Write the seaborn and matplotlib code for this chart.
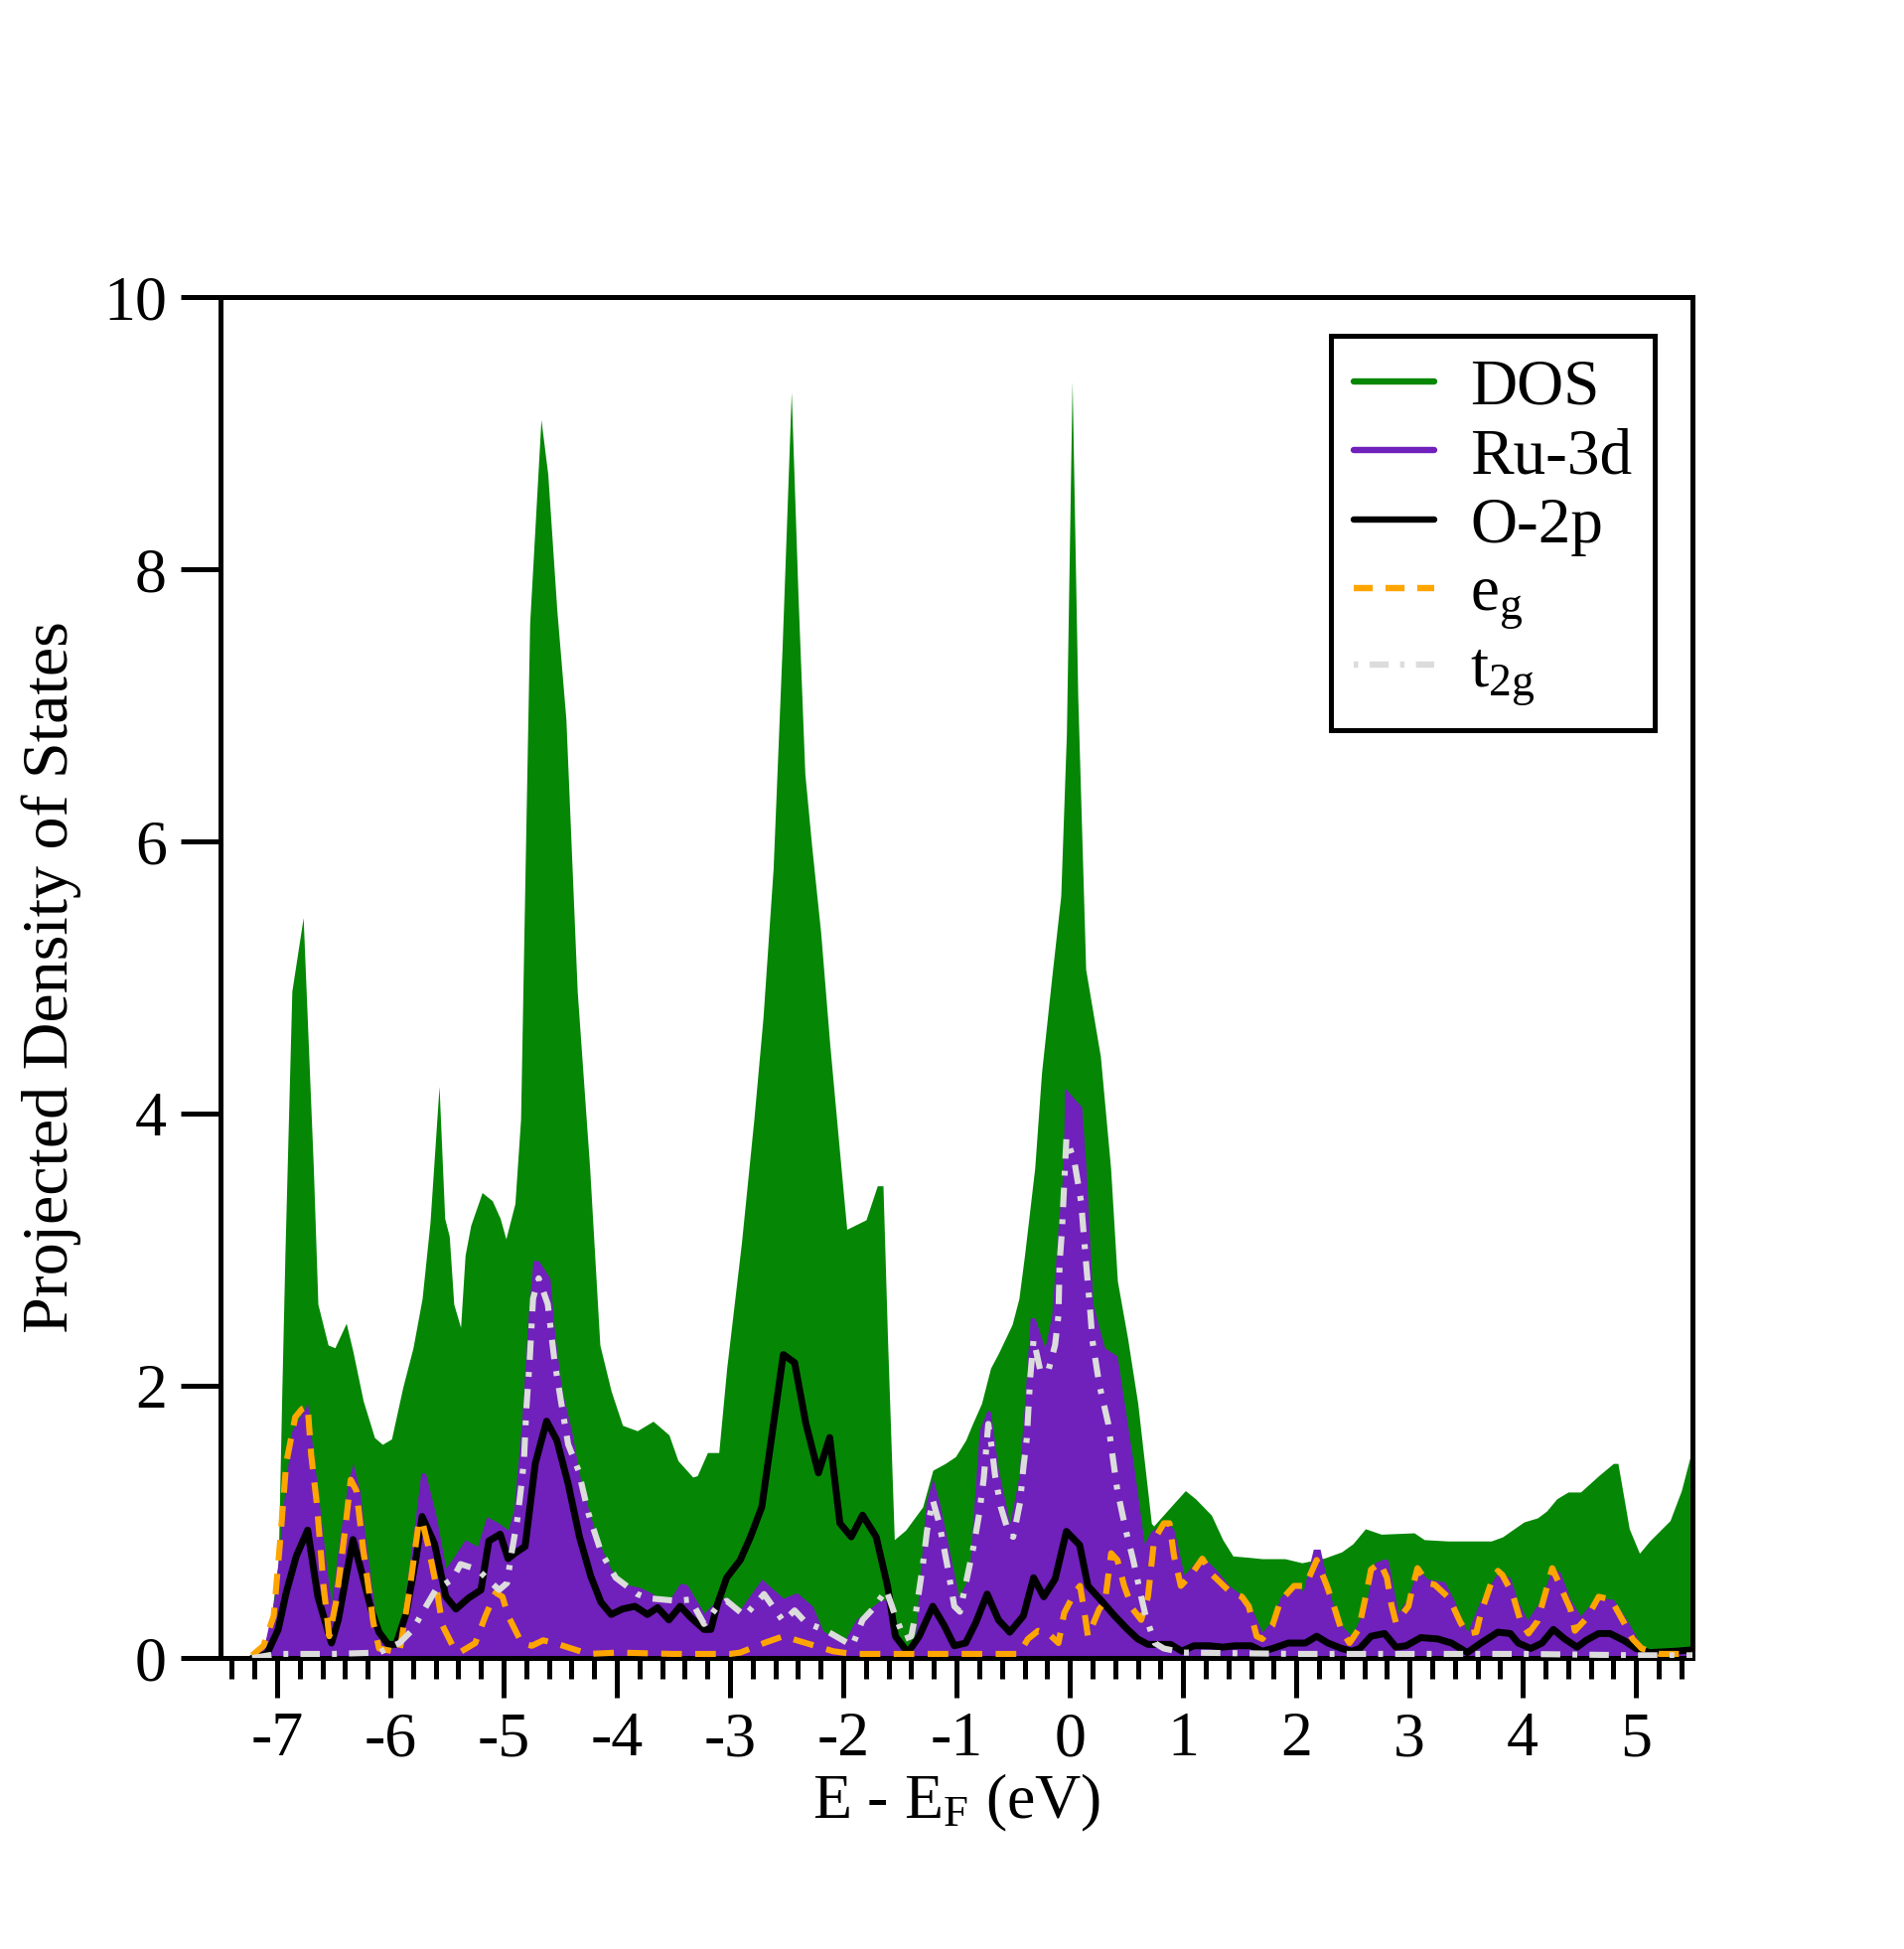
import matplotlib
matplotlib.use("Agg")
import matplotlib.pyplot as plt
from matplotlib.lines import Line2D
from matplotlib.ticker import MultipleLocator
import numpy as np
import pandas as pd
import seaborn as sns

# values (energy in eV, DOS in states)
dos_e = [-7.10, -6.99, -6.96, -6.93, -6.87, -6.77, -6.68, -6.64, -6.55, -6.49, -6.39, -6.33,
         -6.24, -6.14, -6.07, -5.99, -5.89, -5.80, -5.72, -5.65, -5.57, -5.52, -5.48, -5.44,
         -5.38, -5.34, -5.29, -5.19, -5.10, -5.03, -4.98, -4.90, -4.85, -4.81, -4.77, -4.71,
         -4.67, -4.61, -4.53, -4.45, -4.35, -4.24, -4.15, -4.05, -3.95, -3.82, -3.68, -3.54,
         -3.46, -3.33, -3.29, -3.20, -3.10, -3.03, -2.90, -2.79, -2.71, -2.62, -2.54, -2.46,
         -2.40, -2.34, -2.28, -2.20, -2.12, -2.04, -1.97, -1.80, -1.70, -1.65, -1.61, -1.55,
         -1.45, -1.30, -1.21, -1.10, -1.01, -0.92, -0.86, -0.78, -0.70, -0.63, -0.51, -0.45,
         -0.40, -0.31, -0.25, -0.16, -0.08, -0.03, 0.02, 0.07, 0.14, 0.27, 0.36, 0.42,
         0.51, 0.60, 0.66, 0.72, 0.74, 0.89, 1.02, 1.11, 1.25, 1.35, 1.44, 1.58,
         1.70, 1.90, 2.05, 2.25, 2.40, 2.50, 2.61, 2.75, 3.04, 3.13, 3.34, 3.72,
         3.82, 4.01, 4.13, 4.21, 4.30, 4.40, 4.51, 4.67, 4.80, 4.84, 4.94, 5.03,
         5.12, 5.30, 5.40, 5.50]
dos_val = [0.0, 0.7, 1.9, 3.0, 4.9, 5.44, 3.6, 2.6, 2.30, 2.28, 2.46, 2.25,
           1.89, 1.62, 1.57, 1.61, 1.99, 2.28, 2.64, 3.2, 4.2, 3.23, 3.1, 2.6,
           2.43, 2.96, 3.18, 3.42, 3.36, 3.23, 3.08, 3.34, 3.96, 5.8, 7.6, 8.5,
           9.1, 8.7, 7.7, 6.9, 4.9, 3.6, 2.30, 1.96, 1.71, 1.67, 1.74, 1.64,
           1.45, 1.33, 1.34, 1.51, 1.51, 2.13, 3.05, 3.96, 4.7, 5.8, 7.44, 9.3,
           7.8, 6.5, 5.97, 5.33, 4.51, 3.78, 3.15, 3.22, 3.47, 3.47, 2.35, 0.87,
           0.94, 1.11, 1.38, 1.43, 1.48, 1.60, 1.72, 1.87, 2.13, 2.24, 2.45, 2.64,
           2.96, 3.6, 4.3, 5.0, 5.6, 6.8, 9.38, 7.07, 5.06, 4.42, 3.6, 2.77,
           2.35, 1.87, 1.43, 0.99, 0.97, 1.11, 1.23, 1.17, 1.05, 0.87, 0.75, 0.74,
           0.73, 0.73, 0.70, 0.735, 0.78, 0.84, 0.95, 0.91, 0.92, 0.87, 0.86, 0.86,
           0.89, 1.00, 1.03, 1.08, 1.17, 1.22, 1.22, 1.34, 1.43, 1.43, 0.95, 0.77,
           0.86, 1.01, 1.23, 1.55]

ru_e = [-7.22, -7.12, -7.03, -6.99, -6.94, -6.87, -6.73, -6.68, -6.64, -6.56, -6.52, -6.45,
        -6.37, -6.33, -6.27, -6.21, -6.13, -6.04, -5.98, -5.89, -5.80, -5.73, -5.69, -5.60,
        -5.51, -5.45, -5.34, -5.23, -5.15, -5.04, -4.96, -4.91, -4.84, -4.78, -4.74, -4.69,
        -4.59, -4.55, -4.49, -4.40, -4.31, -4.17, -4.05, -3.92, -3.80, -3.70, -3.55, -3.44,
        -3.38, -3.23, -3.11, -3.03, -2.91, -2.72, -2.53, -2.41, -2.27, -2.18, -2.00, -1.89,
        -1.68, -1.61, -1.54, -1.45, -1.37, -1.27, -1.21, -1.15, -0.98, -0.89, -0.80, -0.73,
        -0.70, -0.63, -0.53, -0.45, -0.40, -0.35, -0.31, -0.22, -0.16, -0.10, -0.06, -0.045,
        0.05, 0.105, 0.146, 0.204, 0.307, 0.418, 0.482, 0.57, 0.658, 0.716, 0.86, 0.92,
        1.01, 1.154, 1.17, 1.29, 1.41, 1.49, 1.58, 1.70, 1.79, 1.86, 1.99, 2.06,
        2.15, 2.21, 2.31, 2.40, 2.49, 2.61, 2.69, 2.78, 2.81, 2.90, 2.99, 3.07,
        3.16, 3.31, 3.39, 3.51, 3.63, 3.78, 3.89, 3.95, 4.04, 4.16, 4.26, 4.33,
        4.42, 4.51, 4.65, 4.80, 4.92, 5.06, 5.15, 5.50]
ru_val = [0.02, 0.07, 0.41, 0.72, 1.16, 1.67, 1.87, 1.50, 1.23, 0.65, 0.41, 0.87,
          1.31, 1.43, 1.23, 0.82, 0.31, 0.11, 0.07, 0.33, 0.89, 1.36, 1.36, 1.06,
          0.66, 0.73, 0.87, 0.82, 1.04, 0.99, 0.94, 1.09, 1.74, 2.55, 2.92, 2.92,
          2.79, 2.40, 1.99, 1.67, 1.26, 0.87, 0.65, 0.54, 0.52, 0.48, 0.41, 0.55,
          0.54, 0.33, 0.43, 0.45, 0.36, 0.58, 0.44, 0.48, 0.38, 0.20, 0.11, 0.28,
          0.42, 0.43, 0.16, 0.05, 0.11, 1.14, 1.32, 1.14, 0.45, 0.60, 1.67, 1.82,
          1.81, 1.38, 0.99, 1.33, 1.87, 2.50, 2.50, 2.28, 2.52, 3.20, 3.57, 4.19,
          4.10, 4.05, 3.57, 2.60, 2.28, 2.22, 1.87, 1.38, 0.84, 0.93, 1.01, 0.94,
          0.61, 0.75, 0.75, 0.65, 0.53, 0.48, 0.41, 0.19, 0.28, 0.45, 0.54, 0.49,
          0.80, 0.80, 0.43, 0.24, 0.16, 0.38, 0.70, 0.73, 0.72, 0.33, 0.45, 0.66,
          0.58, 0.56, 0.43, 0.19, 0.43, 0.63, 0.59, 0.43, 0.28, 0.43, 0.66, 0.63,
          0.43, 0.31, 0.45, 0.43, 0.28, 0.07, 0.04, 0.04]

o2p_e = [-7.22, -7.09, -6.99, -6.92, -6.83, -6.73, -6.64, -6.52, -6.46, -6.39, -6.33, -6.26,
         -6.17, -6.10, -6.02, -5.95, -5.86, -5.77, -5.72, -5.61, -5.51, -5.42, -5.31, -5.20,
         -5.13, -5.03, -4.96, -4.90, -4.81, -4.72, -4.62, -4.53, -4.43, -4.33, -4.23, -4.14,
         -4.05, -3.95, -3.84, -3.73, -3.64, -3.54, -3.44, -3.35, -3.23, -3.17, -3.11, -3.03,
         -2.91, -2.82, -2.72, -2.62, -2.53, -2.43, -2.33, -2.22, -2.12, -2.03, -1.93, -1.83,
         -1.71, -1.61, -1.54, -1.43, -1.33, -1.21, -1.11, -1.02, -0.92, -0.83, -0.73, -0.63,
         -0.53, -0.41, -0.32, -0.23, -0.13, -0.03, 0.087, 0.16, 0.28, 0.395, 0.51, 0.60,
         0.69, 0.89, 0.99, 1.095, 1.23, 1.35, 1.46, 1.60, 1.70, 1.79, 1.93, 2.08,
         2.18, 2.28, 2.40, 2.49, 2.56, 2.66, 2.78, 2.88, 2.97, 3.10, 3.25, 3.37,
         3.51, 3.63, 3.78, 3.89, 3.96, 4.07, 4.17, 4.27, 4.37, 4.48, 4.56, 4.67,
         4.77, 4.89, 5.00, 5.12, 5.35, 5.50]
o2p_val = [0.0, 0.03, 0.21, 0.48, 0.75, 0.94, 0.45, 0.11, 0.28, 0.60, 0.87, 0.65,
           0.36, 0.19, 0.10, 0.10, 0.33, 0.75, 1.04, 0.84, 0.45, 0.36, 0.44, 0.50,
           0.86, 0.91, 0.73, 0.77, 0.82, 1.43, 1.74, 1.60, 1.28, 0.89, 0.60, 0.41,
           0.32, 0.36, 0.38, 0.32, 0.37, 0.28, 0.38, 0.30, 0.21, 0.21, 0.40, 0.59,
           0.72, 0.89, 1.11, 1.70, 2.23, 2.17, 1.72, 1.36, 1.62, 0.99, 0.89, 1.05,
           0.89, 0.53, 0.16, 0.04, 0.16, 0.38, 0.24, 0.09, 0.11, 0.26, 0.47, 0.28,
           0.19, 0.31, 0.59, 0.45, 0.58, 0.93, 0.83, 0.53, 0.42, 0.31, 0.21, 0.14,
           0.10, 0.10, 0.05, 0.09, 0.09, 0.08, 0.09, 0.09, 0.05, 0.07, 0.11, 0.11,
           0.16, 0.11, 0.07, 0.05, 0.07, 0.16, 0.18, 0.08, 0.09, 0.15, 0.14, 0.11,
           0.04, 0.11, 0.19, 0.18, 0.11, 0.07, 0.11, 0.21, 0.14, 0.08, 0.13, 0.18,
           0.18, 0.13, 0.07, 0.04, 0.05, 0.06]

eg_e = [-7.22, -7.12, -7.03, -6.97, -6.92, -6.84, -6.78, -6.73, -6.70, -6.65, -6.59, -6.54,
        -6.48, -6.40, -6.35, -6.30, -6.24, -6.15, -6.10, -5.92, -5.83, -5.75, -5.72, -5.67,
        -5.60, -5.54, -5.45, -5.39, -5.25, -5.16, -5.07, -5.01, -4.96, -4.84, -4.75, -4.65,
        -4.55, -4.40, -4.25, -3.99, -3.50, -3.00, -2.91, -2.70, -2.53, -2.33, -2.09, -1.92,
        -1.00, -0.45, -0.37, -0.28, -0.19, -0.10, -0.05, 0.043, 0.09, 0.13, 0.16, 0.26,
        0.31, 0.365, 0.42, 0.48, 0.555, 0.63, 0.69, 0.745, 0.83, 0.88, 0.92, 0.98,
        1.07, 1.17, 1.26, 1.41, 1.52, 1.58, 1.65, 1.70, 1.79, 1.86, 1.98, 2.08,
        2.18, 2.27, 2.34, 2.40, 2.47, 2.55, 2.62, 2.66, 2.74, 2.80, 2.84, 2.88,
        2.99, 3.03, 3.07, 3.16, 3.22, 3.35, 3.45, 3.51, 3.59, 3.63, 3.72, 3.78,
        3.82, 3.91, 3.98, 4.05, 4.13, 4.20, 4.26, 4.33, 4.42, 4.46, 4.55, 4.61,
        4.67, 4.78, 4.90, 4.97, 5.05, 5.21, 5.50]
eg_val = [0.02, 0.09, 0.31, 0.89, 1.43, 1.77, 1.83, 1.85, 1.50, 1.14, 0.53, 0.16,
          0.41, 0.94, 1.31, 1.23, 0.80, 0.26, 0.07, 0.04, 0.50, 0.99, 1.01, 0.84,
          0.55, 0.24, 0.09, 0.04, 0.11, 0.31, 0.48, 0.45, 0.31, 0.11, 0.09, 0.13,
          0.11, 0.07, 0.03, 0.04, 0.03, 0.03, 0.04, 0.11, 0.16, 0.11, 0.05, 0.03,
          0.03, 0.03, 0.14, 0.20, 0.18, 0.11, 0.33, 0.48, 0.53, 0.33, 0.16, 0.36,
          0.41, 0.77, 0.72, 0.53, 0.36, 0.28, 0.45, 0.87, 0.99, 0.99, 0.75, 0.53,
          0.61, 0.73, 0.61, 0.49, 0.45, 0.38, 0.16, 0.14, 0.24, 0.42, 0.53, 0.53,
          0.72, 0.53, 0.36, 0.20, 0.11, 0.21, 0.48, 0.65, 0.70, 0.59, 0.39, 0.26,
          0.38, 0.53, 0.66, 0.55, 0.54, 0.44, 0.26, 0.18, 0.19, 0.33, 0.55, 0.64,
          0.61, 0.47, 0.27, 0.18, 0.27, 0.48, 0.66, 0.53, 0.36, 0.20, 0.28, 0.36,
          0.45, 0.43, 0.25, 0.14, 0.07, 0.03, 0.03]

t2g_e = [-7.22, -7.00, -6.50, -6.10, -5.92, -5.80, -5.72, -5.60, -5.45, -5.38, -5.23, -5.04,
         -4.97, -4.93, -4.88, -4.85, -4.82, -4.80, -4.77, -4.74, -4.69, -4.61, -4.55, -4.49,
         -4.43, -4.34, -4.25, -4.14, -4.01, -3.82, -3.73, -3.60, -3.47, -3.35, -3.23, -3.11,
         -3.03, -2.87, -2.70, -2.53, -2.43, -2.33, -2.15, -1.92, -1.83, -1.74, -1.62, -1.55,
         -1.46, -1.40, -1.36, -1.30, -1.26, -1.21, -1.15, -1.08, -1.02, -0.97, -0.91, -0.85,
         -0.80, -0.76, -0.72, -0.69, -0.66, -0.61, -0.54, -0.50, -0.44, -0.41, -0.38, -0.35,
         -0.32, -0.26, -0.19, -0.13, -0.10, -0.09, -0.07, -0.03, 0.04, 0.10, 0.12, 0.15,
         0.18, 0.20, 0.26, 0.34, 0.37, 0.42, 0.50, 0.56, 0.63, 0.67, 0.75, 0.83,
         1.00, 2.00, 3.00, 4.00, 5.00, 5.50]
t2g_val = [0.0, 0.03, 0.03, 0.04, 0.11, 0.21, 0.33, 0.50, 0.58, 0.69, 0.65, 0.50,
           0.55, 0.77, 1.01, 1.22, 1.45, 1.82, 2.18, 2.64, 2.79, 2.60, 2.18, 1.87,
           1.57, 1.38, 1.06, 0.78, 0.59, 0.47, 0.44, 0.43, 0.42, 0.43, 0.25, 0.38,
           0.42, 0.31, 0.47, 0.27, 0.35, 0.26, 0.20, 0.09, 0.28, 0.36, 0.50, 0.33,
           0.14, 0.16, 0.33, 0.67, 0.94, 1.16, 0.98, 0.67, 0.38, 0.34, 0.58, 0.82,
           1.06, 1.32, 1.72, 1.55, 1.34, 1.11, 0.92, 0.89, 1.14, 1.40, 1.61, 2.06,
           2.34, 2.11, 2.11, 2.30, 2.52, 2.91, 3.13, 3.82, 3.65, 3.35, 3.14, 2.84,
           2.55, 2.33, 2.01, 1.72, 1.53, 1.23, 0.92, 0.72, 0.45, 0.31, 0.11, 0.07,
           0.04, 0.03, 0.03, 0.03, 0.02, 0.02]

green = "#058705"
purple = "#7020bb"
orange = "#ffa500"
grey = "#dcdcdc"

sns.set_theme(style="white")
plt.rcParams["font.family"] = ["Liberation Serif", "DejaVu Serif"]
plt.rcParams["mathtext.fontset"] = "custom"
plt.rcParams["mathtext.rm"] = "Liberation Serif"
plt.rcParams["mathtext.it"] = "Liberation Serif:italic"
plt.rcParams["axes.unicode_minus"] = False
plt.rcParams["text.color"] = "black"
plt.rcParams["axes.labelcolor"] = "black"
plt.rcParams["xtick.color"] = "black"
plt.rcParams["ytick.color"] = "black"

fig, ax = plt.subplots(figsize=(19.17, 19.62), dpi=100)
fig.subplots_adjust(left=0.1158, right=0.889, bottom=0.1493, top=0.8476)

dos = pd.DataFrame({"E": dos_e, "DOS": dos_val})
ru = pd.DataFrame({"E": ru_e, "DOS": ru_val})
o2p = pd.DataFrame({"E": o2p_e, "DOS": o2p_val})
eg = pd.DataFrame({"E": eg_e, "DOS": eg_val})
t2g = pd.DataFrame({"E": t2g_e, "DOS": t2g_val})

# filled total and Ru-3d curves
ax.fill_between(dos["E"], 0, dos["DOS"], color=green, linewidth=0, zorder=1)
ax.fill_between(ru["E"], 0, ru["DOS"], color=purple, linewidth=0, zorder=2)

sns.lineplot(data=o2p, x="E", y="DOS", ax=ax, color="black",
             sort=False, estimator=None, zorder=3)
sns.lineplot(data=eg, x="E", y="DOS", ax=ax, color=orange,
             sort=False, estimator=None, zorder=4)
sns.lineplot(data=t2g, x="E", y="DOS", ax=ax, color=grey,
             sort=False, estimator=None, zorder=5)
ax.lines[0].set_linewidth(5.0)
ax.lines[1].set_linewidth(4.4)
ax.lines[2].set_linewidth(4.4)
ax.lines[1].set_dashes((3.4, 2.2))
ax.lines[2].set_dashes((3.2, 2.0, 0.8, 2.0))

ax.set_xlim(-7.5, 5.5)
ax.set_ylim(0, 10)
ax.xaxis.set_major_locator(MultipleLocator(1))
ax.xaxis.set_minor_locator(MultipleLocator(0.2))
ax.yaxis.set_major_locator(MultipleLocator(2))

for s in ax.spines.values():
    s.set_linewidth(3.6)
    s.set_color("black")
    s.set_visible(True)

ax.tick_params(axis="x", which="major", direction="out", length=29, width=3.6,
               labelsize=46, pad=10, bottom=True, top=False, colors="black")
ax.tick_params(axis="x", which="minor", direction="out", length=15, width=3.6,
               bottom=True, top=False, colors="black")
ax.tick_params(axis="y", which="major", direction="out", length=29, width=3.6,
               labelsize=46, pad=10, left=True, right=False, colors="black")

ax.set_xlabel(r"E - E$_\mathrm{F}$ (eV)", fontsize=46, labelpad=2)
ax.set_ylabel("Projected Density of States", fontsize=47.5, labelpad=16)

handles = [
    Line2D([], [], color=green, linewidth=4.6),
    Line2D([], [], color=purple, linewidth=4.6),
    Line2D([], [], color="black", linewidth=4.6),
    Line2D([], [], color=orange, linewidth=4.6, dashes=(3.0, 2.0)),
    Line2D([], [], color=grey, linewidth=4.6, dashes=(0.7, 1.8, 3.0, 1.8)),
]
labels = ["DOS", "Ru-3d", "O-2p", r"e$_\mathrm{g}$", r"t$_\mathrm{2g}$"]
leg = ax.legend(handles, labels, loc="upper right", bbox_to_anchor=(0.9744, 0.9715),
                fontsize=47, frameon=True, fancybox=False, framealpha=1,
                edgecolor="black", borderaxespad=0, borderpad=0.35,
                handlelength=1.25, handletextpad=0.55, labelspacing=0.15)
leg.get_frame().set_linewidth(3.6)

fig.savefig("out.png", dpi=100, facecolor="white")
